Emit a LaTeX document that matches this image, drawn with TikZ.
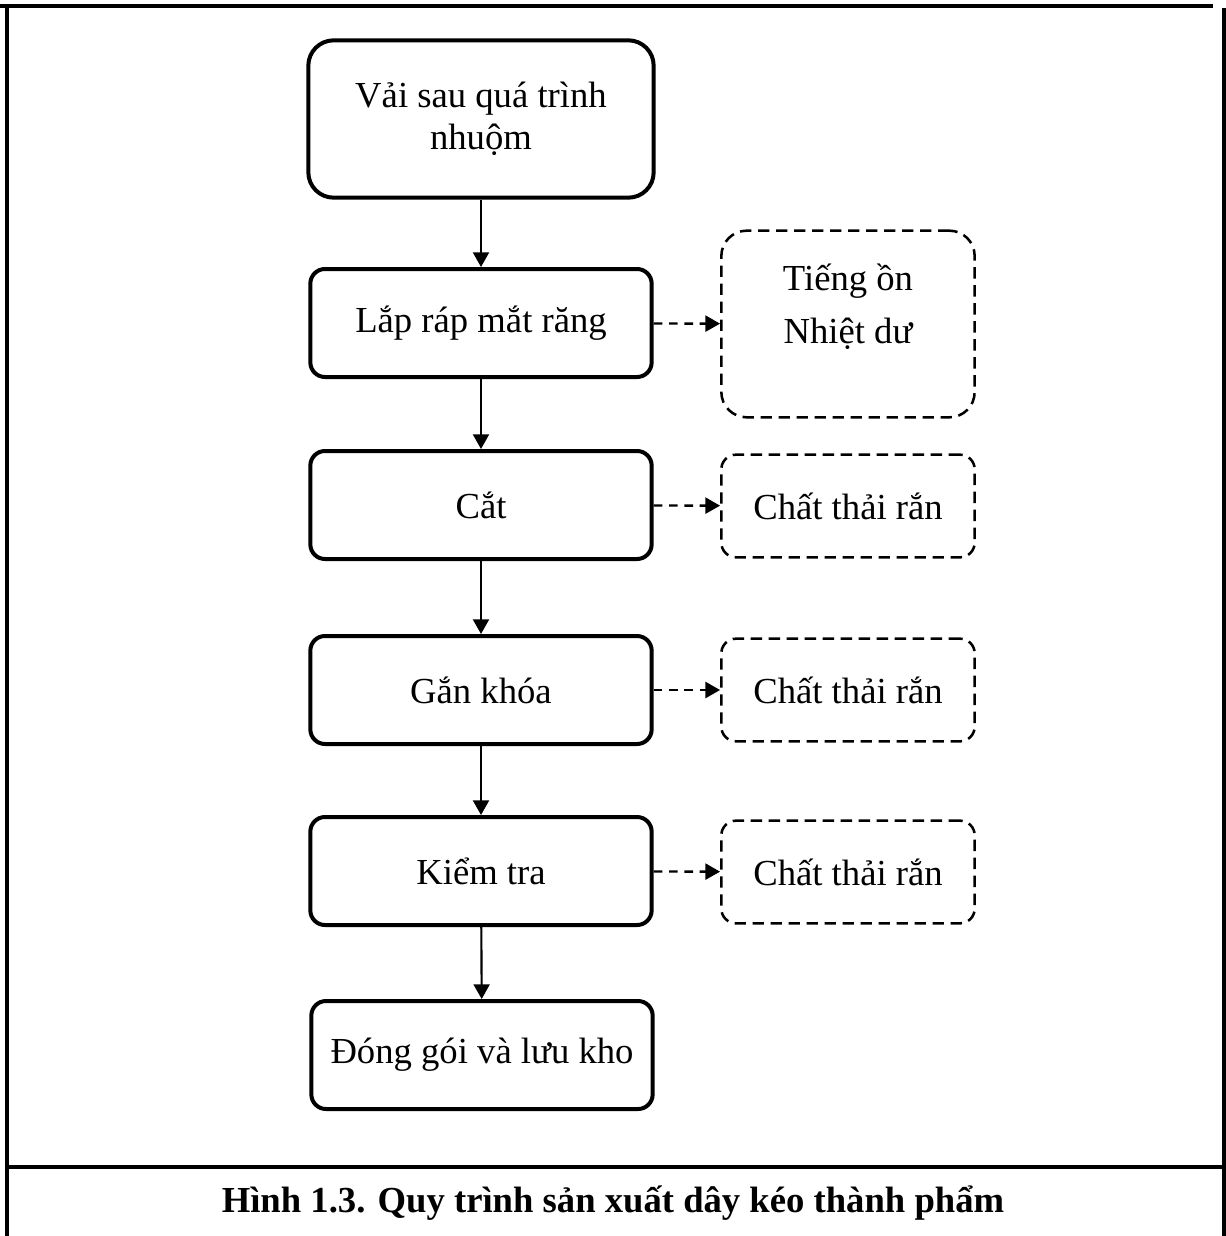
\documentclass[tikz,border=0pt]{standalone}
\usepackage{fontspec}
\setmainfont{Liberation Serif}
\usetikzlibrary{arrows.meta}

\begin{document}
\begin{tikzpicture}[
    x=0.75pt, y=-0.75pt,
    stepbox/.style={rectangle, draw, line width=3pt, rounded corners=11pt, minimum width=256pt, minimum height=81pt, align=center, font=\fontsize{27.5}{31.5}\selectfont},
    wastebox/.style={rectangle, draw, dash pattern=on 8.5pt off 5pt, line width=1.9pt, rounded corners=11pt, minimum width=190pt, minimum height=77pt, align=center, font=\fontsize{27.5}{31.5}\selectfont},
    arrow/.style={-{Triangle[length=11pt,width=12pt]}, line width=1.6pt},
    dasharrow/.style={arrow, line width=1.8pt, dash pattern=on 6.5pt off 5pt}
]
    \useasboundingbox (0,0) rectangle (1226,1236);

    % frame of the figure cell
    \draw[line width=2.3pt] (0,6) -- (1213,6);
    \draw[line width=2.3pt] (7,8) -- (7,1236);
    \draw[line width=2.3pt] (1224,8) -- (1224,1236);
    \draw[line width=2.3pt] (7,1167) -- (1224,1167);

    \node[stepbox, minimum width=259pt, minimum height=118pt, rounded corners=19pt] (dyed) at (481,119) {Vải sau quá trình\\nhuộm};
    \node[stepbox] (teeth) at (481,323) {Lắp ráp mắt răng};
    \node[stepbox] (cut) at (481,505) {Cắt};
    \node[stepbox] (slider) at (481,690) {Gắn khóa};
    \node[stepbox] (check) at (481,871) {Kiểm tra};
    \node[stepbox] (pack) at (482,1055) {Đóng gói và lưu kho};

    \node[wastebox, minimum height=140pt, rounded corners=19pt, text depth=30pt] (noise) at (848,324) {Tiếng ồn\\[8pt]Nhiệt dư};
    \node[wastebox] (solidA) at (848,506) {Chất thải rắn};
    \node[wastebox] (solidB) at (848,690) {Chất thải rắn};
    \node[wastebox] (solidC) at (848,872) {Chất thải rắn};

    \draw[arrow] (dyed) -- (teeth);
    \draw[arrow] (teeth) -- (cut);
    \draw[arrow] (cut) -- (slider);
    \draw[arrow] (slider) -- (check);
    \draw[arrow] (check) -- (pack);

    \draw[dasharrow] (teeth) -- (noise);
    \draw[dasharrow] (cut) -- (solidA);
    \draw[dasharrow] (slider) -- (solidB);
    \draw[dasharrow] (check) -- (solidC);

    \node[font=\bfseries\fontsize{27.5}{33}\selectfont] (caption) at (613,1203) {Hình 1.3. Quy trình sản xuất dây kéo thành phẩm};
\end{tikzpicture}
\end{document}
